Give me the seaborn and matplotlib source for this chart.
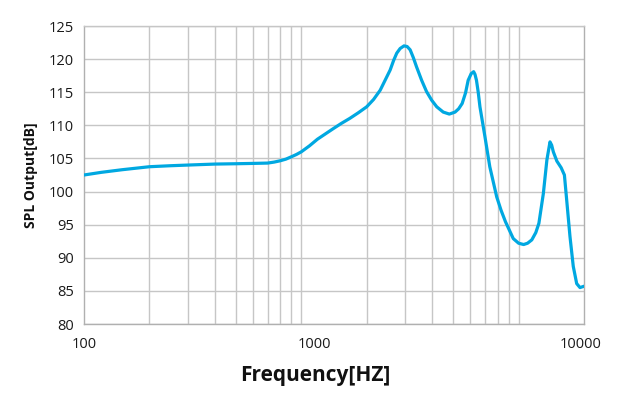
import matplotlib
matplotlib.use("Agg")
import matplotlib.pyplot as plt
import seaborn as sns
import pandas as pd
from matplotlib.ticker import FixedLocator, FixedFormatter, NullFormatter

# ---- data ----
freq_hz = [100, 120, 150, 200, 250, 300, 400, 500, 600, 700, 750, 800, 850,
           900, 950, 1000, 1090, 1186, 1290, 1403, 1530, 1672, 1830, 2000,
           2150, 2307, 2430, 2564, 2660, 2750, 2850, 2970, 3070, 3170, 3280,
           3390, 3580, 3770, 3980, 4200, 4500, 4800, 5100, 5300, 5500, 5700,
           5860, 6050, 6210, 6300, 6400, 6520, 6640, 7000, 7370, 7930, 8300,
           8700, 9450, 10000, 10550, 11000, 11500, 12000, 12400, 13000, 13500,
           13950, 14200, 14450, 15000, 15700, 16250, 16650, 17240, 17850,
           18510, 19170, 20000]
spl_db = [102.5, 102.9, 103.3, 103.75, 103.9, 104.0, 104.15, 104.2, 104.25,
          104.3, 104.45, 104.65, 104.9, 105.25, 105.6, 106.0, 106.9, 107.9,
          108.7, 109.5, 110.3, 111.05, 111.9, 112.8, 113.9, 115.3, 116.8,
          118.35, 119.8, 120.9, 121.6, 122.0, 121.9, 121.4, 120.2, 118.85,
          116.8, 115.1, 113.8, 112.8, 112.0, 111.7, 112.0, 112.5, 113.3,
          114.9, 116.8, 117.8, 118.1, 117.7, 116.8, 115.0, 112.8, 108.3,
          103.75, 99.2, 97.2, 95.45, 92.9, 92.2, 92.0, 92.2, 92.7, 93.8, 95.2,
          99.7, 104.8, 107.5, 107.0, 106.0, 104.6, 103.6, 102.5, 98.7, 93.2,
          88.7, 86.1, 85.5, 85.7]

grid_freqs = [200, 300, 400, 500, 600, 700, 800, 900, 1000,
              2000, 3000, 4000, 5000, 6000, 7000, 8000, 9000, 10000]
xtick_pos = [100, 1144, 19340]
xtick_labels = ["100", "1000", "10000"]
yticks = [80, 85, 90, 95, 100, 105, 110, 115, 120, 125]

df = pd.DataFrame({"Frequency": freq_hz, "SPL": spl_db})

sns.set_theme(style="white")
plt.rcParams["font.family"] = ["Open Sans", "DejaVu Sans"]

fig = plt.figure(figsize=(6.19, 3.97), dpi=100)
ax = fig.add_axes([84 / 619, (397 - 324) / 397, 500 / 619, 298 / 397])

sns.lineplot(data=df, x="Frequency", y="SPL", ax=ax, color="#00a8e1",
             linewidth=2.3, sort=False, zorder=3)
ax.lines[0].set_solid_joinstyle("round")
ax.lines[0].set_solid_capstyle("round")

ax.set_xscale("log")
ax.set_xlim(100, 20000)
ax.set_ylim(80, 125)

ax.xaxis.set_major_locator(FixedLocator(xtick_pos))
ax.xaxis.set_major_formatter(FixedFormatter(xtick_labels))
ax.xaxis.set_minor_locator(FixedLocator(grid_freqs))
ax.xaxis.set_minor_formatter(NullFormatter())
ax.set_yticks(yticks)

ax.grid(False)
ax.grid(True, which="minor", axis="x", color="#c6c6c6", linewidth=1.0)
ax.grid(True, which="major", axis="y", color="#c6c6c6", linewidth=1.0)

ax.tick_params(axis="both", which="both", length=0, labelsize=10.5,
               colors="#1a1a1a")
ax.tick_params(axis="x", pad=9)
ax.tick_params(axis="y", pad=7)

for side in ["left", "bottom", "right", "top"]:
    ax.spines[side].set_visible(True)
    ax.spines[side].set_color("#b0b0b0")
    ax.spines[side].set_linewidth(1.0)
ax.spines["top"].set_color("#c6c6c6")

ax.set_xlabel("")
ax.set_ylabel("SPL Output[dB]", fontsize=10, fontweight="bold", color="#111111",
              labelpad=8)
fig.text(315 / 619, 1 - 375 / 397, "Frequency[HZ]", ha="center", va="center",
         fontsize=15, fontweight="bold", color="#111111")

fig.savefig("out.png", dpi=100)
